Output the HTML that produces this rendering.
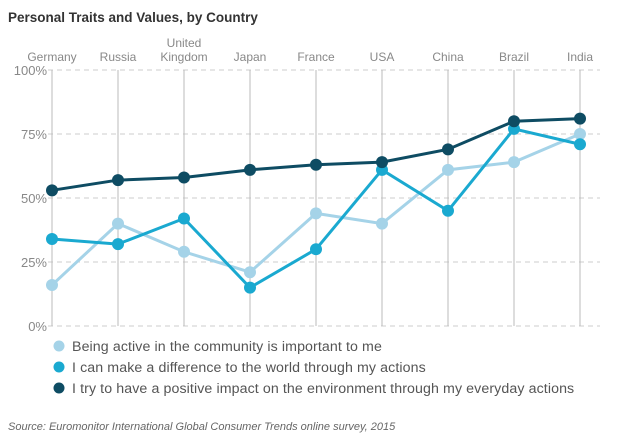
<!DOCTYPE html>
<html><head><meta charset="utf-8"><style>
body{margin:0;background:#fff;width:640px;height:438px;overflow:hidden;font-family:"Liberation Sans",sans-serif}
</style></head><body>
<svg width="640" height="438">
<text x="8" y="22" font-size="13.5" font-weight="bold" fill="#333">Personal Traits and Values, by Country</text>
<g id="grid"></g><g id="series"></g>
<g font-size="14.2" fill="#555" letter-spacing="0.1">
<circle cx="59" cy="346" r="5.5" fill="#a5d3e8"/><text x="72" y="351">Being active in the community is important to me</text>
<circle cx="59" cy="367" r="5.5" fill="#1aa9d0"/><text x="72" y="372">I can make a difference to the world through my actions</text>
<circle cx="59" cy="388" r="5.5" fill="#0e4c63"/><text x="72" y="393">I try to have a positive impact on the environment through my everyday actions</text>
</g>
<text x="8" y="430" font-size="11" font-style="italic" fill="#666">Source: Euromonitor International Global Consumer Trends online survey, 2015</text>
</svg>
<script>
const categories=[["Germany"],["Russia"],["United","Kingdom"],["Japan"],["France"],["USA"],["China"],["Brazil"],["India"]];
const community=[16,40,29,21,44,40,61,64,75];
const difference=[34,32,42,15,30,61,45,77,71];
const environment=[53,57,58,61,63,64,69,80,81];
const yTicks=[0,25,50,75,100];
const NS="http://www.w3.org/2000/svg";
const x=i=>52+i*66;
const y=v=>326-v*2.56;
function mk(t,a,p){const e=document.createElementNS(NS,t);for(const k in a)e.setAttribute(k,a[k]);p.appendChild(e);return e;}
const g=document.getElementById('grid');
yTicks.forEach(t=>{
 const l=mk('line',{x1:48,x2:600,y1:y(t),y2:y(t),stroke:'#ccc','stroke-dasharray':'5,4'},g);
 
 
 const tx=mk('text',{x:47,y:y(t)+5,'text-anchor':'end','font-size':13,fill:'#888'},g);tx.textContent=t+'%';
 
 
});
categories.forEach((c,i)=>{
 const l=mk('line',{x1:x(i),x2:x(i),y1:y(100),y2:y(0),stroke:'#bbb'},g);
 
 
 c.forEach((s,j)=>{const tx=mk('text',{x:x(i),y:61-(c.length-1-j)*14,'text-anchor':'middle','font-size':12,fill:'#888'},g);tx.textContent=s;
 
 });
});
const sg=document.getElementById('series');
[[community,'#a5d3e8','community'],[difference,'#1aa9d0','difference'],[environment,'#0e4c63','environment']].forEach(([d,col,n])=>{
 const p=mk('polyline',{points:d.map((v,i)=>x(i)+','+y(v)).join(' '),fill:'none',stroke:col,'stroke-width':3},sg);
 
 
 d.forEach((v,i)=>{const c=mk('circle',{cx:x(i),cy:y(v),r:6,fill:col},sg);
 
 });
});
</script>
</body></html>
